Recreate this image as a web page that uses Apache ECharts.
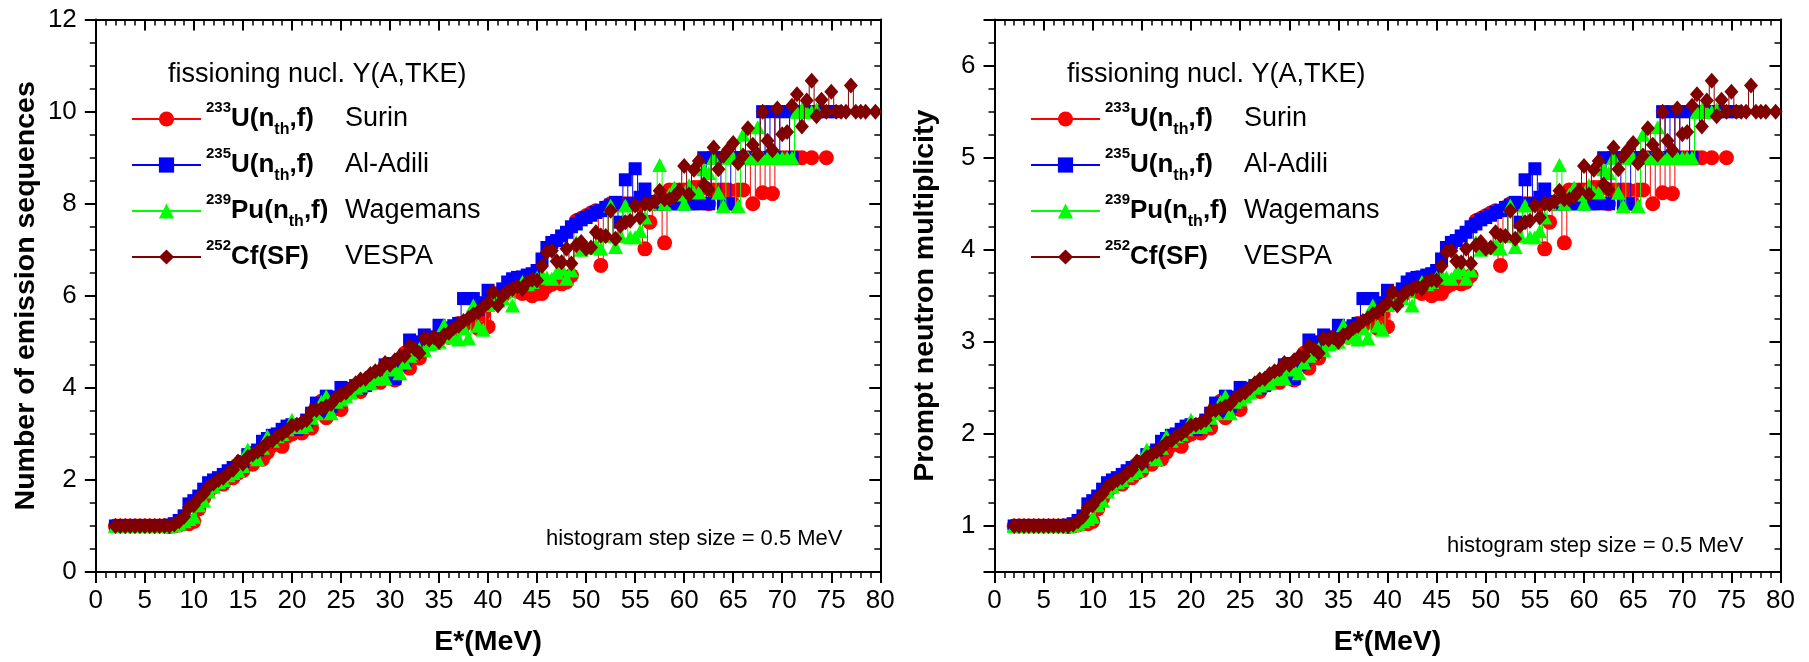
<!DOCTYPE html>
<html><head><meta charset="utf-8">
<script src="https://cdn.jsdelivr.net/npm/echarts@6/dist/echarts.min.js"></script>
<style>html,body{margin:0;padding:0;background:#fff}#c{width:1809px;height:662px}</style>
</head><body><div id="c"></div>
<script>
// ---------- DATA ----------
const energy = [2,2.5,3,3.5,4,4.5,5,5.5,6,6.5,
7,7.5,8,8.5,9,9.5,10,10.5,11,11.5,
12,12.5,13,13.5,14,14.5,15,15.5,16,16.5,
17,17.5,18,18.5,19,19.5,20,20.5,21,21.5,
22,22.5,23,23.5,24,24.5,25,25.5,26,26.5,
27,27.5,28,28.5,29,29.5,30,30.5,31,31.5,
32,32.5,33,33.5,34,34.5,35,35.5,36,36.5,
37,37.5,38,38.5,39,39.5,40,40.5,41,41.5,
42,42.5,43,43.5,44,44.5,45,45.5,46,46.5,
47,47.5,48,48.5,49,49.5,50,50.5,51,51.5,
52,52.5,53,53.5,54,54.5,55,55.5,56,56.5,
57,57.5,58,58.5,59,59.5,60,60.5,61,61.5,
62,62.5,63,63.5,64,64.5,65,65.5,66,66.5,
67,67.5,68,68.5,69,69.5,70,70.5,71,71.5,
72,72.5,73,73.5,74,74.5,75,75.5,76,76.5,
77,77.5,78,78.5,79,79.5,80];

// Left panel: number of emission sequences
const seqU233 = [1,1,1,1,1,1,1,1,1,1,
1,0.99,1.0,1.02,1.05,1.05,1.1,1.37,1.6,1.75,
1.85,1.95,1.91,2.05,2.05,2.15,2.2,2.35,2.34,2.5,
2.45,2.6,2.75,2.85,2.73,2.95,3.0,3.05,3.02,3.15,
3.13,3.6,3.71,3.35,3.5,3.55,3.53,3.85,3.95,4.0,
3.92,4.05,4.1,4.15,4.12,4.4,4.5,4.17,4.55,4.75,
4.43,4.8,4.65,5.0,5.0,5.1,5.05,5.15,5.1,5.25,
5.4,5.35,5.45,5.5,5.29,5.6,5.33,5.85,6.05,6.0,
6.1,6.15,6.1,6.05,6.1,6.0,6.05,6.05,6.2,6.25,
6.3,6.26,6.3,6.44,7.63,7.68,7.74,7.8,7.85,6.66,
7.92,8.0,8.0,8.0,8.0,8.0,8.0,8.0,7.02,7.6,
8.0,8.0,7.15,8.3,8.3,8.3,8.3,8.3,8.35,8.35,
8.35,8.0,8.3,8.3,8.3,8.3,8.0,8.3,8.3,9.0,
8.0,9.0,8.24,9.0,8.22,9.0,9.0,9.0,9.0,9.0,
9.0,null,9.0,null,null,9.0];
const seqU235 = [1,1,1,1,1,1,1,1,1,1,
1,1.02,1.05,1.12,1.22,1.48,1.55,1.65,1.8,1.94,
2.0,2.05,2.12,2.2,2.27,2.3,2.4,2.55,2.59,2.65,
2.84,2.9,2.97,3.0,3.1,3.17,3.2,3.1,3.2,3.3,
3.45,3.67,3.5,3.82,3.6,3.8,4.01,3.9,3.99,4.05,
4.0,4.05,4.17,4.2,4.25,4.5,4.53,4.2,4.5,4.57,
5.04,5.0,4.9,5.15,5.05,5.1,5.36,5.2,5.3,5.35,
5.4,5.94,5.94,5.94,5.7,5.85,6.12,6.0,6.0,6.15,
6.3,6.37,6.4,6.41,6.45,6.48,6.55,6.8,7.05,7.16,
7.2,7.3,7.38,7.5,7.56,7.65,7.7,7.75,7.81,7.85,
7.92,7.97,8.03,7.6,8.52,8.0,8.76,8.14,8.32,8.05,
8,8,8,8,8,8,8,8,8,8,
9,8,9,9,8,8,9,9,9,9,
9,9,10,9,10,9,10,10,9,10,
10,10,10,10,10,10,10,10];
const seqPu239 = [1,1,1,1,1,1,1,1,1,1,
1,1,1.02,1.05,1.1,1.15,1.2,1.45,1.55,1.75,
1.85,1.95,2.0,2.1,2.15,2.2,2.3,2.66,2.5,2.45,
2.7,2.95,2.85,2.95,3.0,3.1,3.31,3.15,3.15,3.2,
3.35,3.45,3.7,3.82,3.45,3.7,3.75,3.82,3.9,4.0,
4.05,4.1,4.1,4.2,4.2,4.21,4.45,4.4,4.32,4.55,
4.7,4.75,4.85,4.82,4.95,4.97,5.0,5.36,5.1,5.1,
5.05,5.3,5.08,5.79,5.35,5.26,5.8,5.9,5.9,5.95,
6.1,5.79,6.2,6.3,6.25,6.3,6.4,6.45,6.4,6.37,
6.5,6.6,6.37,6.55,7.17,7.0,7.05,7.05,7.1,7.02,
7.3,7.96,7.06,7.3,7.96,7.27,7.27,7.4,7.7,8.0,
8.1,8.84,8.0,8.2,8.35,8.2,8.0,8.4,8.25,8.25,
8.75,8.67,9.0,8.24,7.95,9.0,9.0,7.95,9.5,9.0,
9.0,9.66,9.0,9.0,9.0,9.0,9.0,9.0,9.0,10.0,
10.05,10.0,10.0,10.05];
const seqCf252 = [1,1,1,1,1,1,1,1,1,1,
1,1,1.03,1.1,1.2,1.4,1.45,1.6,1.7,1.85,
1.92,2.0,2.05,2.15,2.22,2.4,2.35,2.5,2.55,2.62,
2.7,2.8,2.85,2.95,3.0,3.08,3.18,3.2,3.25,3.3,
3.5,3.52,3.55,3.6,3.65,3.78,3.85,3.9,4.0,4.1,
4.18,4.2,4.3,4.36,4.4,4.54,4.5,4.6,4.68,4.7,
4.9,4.85,4.75,5.08,5.05,5.1,5.0,5.15,5.2,5.3,
5.35,5.45,5.51,5.6,5.65,5.75,5.85,6.08,5.79,6.0,
6.1,6.15,6.2,6.15,6.3,6.35,6.33,6.65,6.95,6.98,
6.75,6.73,7.02,6.7,7.1,7.17,7.02,7.05,7.38,7.31,
7.3,7.85,7.24,7.52,7.6,7.63,7.96,7.7,8.0,7.99,
8.05,8.28,8.1,8.1,8.15,8.28,8.82,8.2,8.74,8.93,
8.42,8.31,9.22,8.75,9.04,9.18,9.32,8.88,9.05,9.64,
9.28,9.07,10.0,9.37,9.16,10.07,9.51,9.56,10.13,10.38,
9.68,10.24,10.67,9.9,10.26,10.0,10.43,10.0,10.0,10.0,
10.57,10.0,10.0,10.0,null,10.0];

// Right panel: prompt neutron multiplicity
const nuU233 = [1,1,1,1,1,1,1,1,1,1,
1,0.995,1,1.01,1.025,1.025,1.05,1.185,1.3,1.375,
1.425,1.475,1.455,1.525,1.525,1.575,1.6,1.675,1.67,1.75,
1.725,1.8,1.875,1.925,1.865,1.975,2.0,2.025,2.01,2.075,
2.065,2.3,2.355,2.175,2.25,2.275,2.265,2.425,2.475,2.5,
2.46,2.525,2.55,2.575,2.56,2.7,2.75,2.585,2.775,2.875,
2.715,2.9,2.825,3.0,3.0,3.05,3.025,3.075,3.05,3.125,
3.2,3.175,3.225,3.25,3.145,3.3,3.165,3.425,3.525,3.5,
3.55,3.575,3.55,3.525,3.55,3.5,3.525,3.525,3.6,3.625,
3.65,3.63,3.65,3.72,4.315,4.34,4.37,4.4,4.425,3.83,
4.46,4.5,4.5,4.5,4.5,4.5,4.5,4.5,4.01,4.3,
4.5,4.5,4.075,4.65,4.65,4.65,4.65,4.65,4.675,4.675,
4.675,4.5,4.65,4.65,4.65,4.65,4.5,4.65,4.65,5.0,
4.5,5.0,4.62,5.0,4.61,5.0,5.0,5.0,5.0,5.0,
5.0,null,5.0,null,null,5.0];
const nuU235 = [1,1,1,1,1,1,1,1,1,1,
1,1.01,1.025,1.06,1.11,1.24,1.275,1.325,1.4,1.47,
1.5,1.525,1.56,1.6,1.635,1.65,1.7,1.775,1.795,1.825,
1.92,1.95,1.985,2.0,2.05,2.085,2.1,2.05,2.1,2.15,
2.225,2.335,2.25,2.41,2.3,2.4,2.505,2.45,2.495,2.525,
2.5,2.525,2.585,2.6,2.625,2.75,2.765,2.6,2.75,2.785,
3.02,3.0,2.95,3.075,3.025,3.05,3.18,3.1,3.15,3.175,
3.2,3.47,3.47,3.47,3.35,3.425,3.56,3.5,3.5,3.575,
3.65,3.685,3.7,3.705,3.725,3.74,3.775,3.9,4.025,4.08,
4.1,4.15,4.19,4.25,4.28,4.325,4.35,4.375,4.405,4.425,
4.46,4.485,4.515,4.3,4.76,4.5,4.88,4.57,4.66,4.525,
4.5,4.5,4.5,4.5,4.5,4.5,4.5,4.5,4.5,4.5,
5,4.5,5,5,4.5,4.5,5,5,5,5,
5,5,5.5,5,5.5,5,5.5,5.5,5,5.5,
5.5,5.5,5.5,5.5,5.5,5.5,5.5,5.5];
const nuPu239 = [1,1,1,1,1,1,1,1,1,1,
1,1,1.01,1.025,1.05,1.075,1.1,1.225,1.275,1.375,
1.425,1.475,1.5,1.55,1.575,1.6,1.65,1.83,1.75,1.725,
1.85,1.975,1.925,1.975,2.0,2.05,2.155,2.075,2.075,2.1,
2.175,2.225,2.35,2.41,2.225,2.35,2.375,2.41,2.45,2.5,
2.525,2.55,2.55,2.6,2.6,2.605,2.725,2.7,2.66,2.775,
2.85,2.875,2.925,2.91,2.975,2.985,3.0,3.18,3.05,3.05,
3.025,3.15,3.04,3.395,3.175,3.13,3.4,3.45,3.45,3.475,
3.55,3.395,3.6,3.65,3.625,3.65,3.7,3.725,3.7,3.685,
3.75,3.8,3.685,3.775,4.085,4.0,4.025,4.025,4.05,4.01,
4.15,4.48,4.03,4.15,4.48,4.135,4.135,4.2,4.35,4.5,
4.55,4.92,4.5,4.6,4.675,4.6,4.5,4.7,4.625,4.625,
4.875,4.835,5.0,4.62,4.475,5.0,5.0,4.475,5.25,5.0,
5.0,5.33,5.0,5.0,5.0,5.0,5.0,5.0,5.0,5.5,
5.525,5.5,5.5,5.525];
const nuCf252 = [1,1,1,1,1,1,1,1,1,1,
1,1,1.015,1.05,1.1,1.2,1.225,1.3,1.35,1.425,
1.46,1.5,1.525,1.575,1.61,1.7,1.675,1.75,1.775,1.81,
1.85,1.9,1.925,1.975,2.0,2.04,2.09,2.1,2.125,2.15,
2.25,2.26,2.275,2.3,2.325,2.39,2.425,2.45,2.5,2.55,
2.59,2.6,2.65,2.68,2.7,2.77,2.75,2.8,2.84,2.85,
2.95,2.925,2.875,3.04,3.025,3.05,3.0,3.075,3.1,3.15,
3.175,3.225,3.255,3.3,3.325,3.375,3.425,3.54,3.395,3.5,
3.55,3.575,3.6,3.575,3.65,3.675,3.665,3.825,3.975,3.99,
3.875,3.865,4.01,3.85,4.05,4.085,4.01,4.025,4.19,4.155,
4.15,4.425,4.12,4.26,4.3,4.315,4.48,4.35,4.5,4.495,
4.525,4.64,4.55,4.55,4.575,4.64,4.91,4.6,4.87,4.965,
4.71,4.655,5.11,4.875,5.02,5.09,5.16,4.94,5.025,5.32,
5.14,5.035,5.5,5.185,5.08,5.535,5.255,5.28,5.565,5.69,
5.34,5.62,5.835,5.45,5.63,5.5,5.715,5.5,5.5,5.5,
5.785,5.5,5.5,5.5,null,5.5];

const seriesNames = ['233U(nth,f) Surin', '235U(nth,f) Al-Adili', '239Pu(nth,f) Wagemans', '252Cf(SF) VESPA'];
const isotopeLabels = ['{sup|233}{b|U(n}{sub|th}{b|,f)}', '{sup|235}{b|U(n}{sub|th}{b|,f)}',
                       '{sup|239}{b|Pu(n}{sub|th}{b|,f)}', '{sup|252}{b|Cf(SF)}'];
const sourceLabels = ['Surin', 'Al-Adili', 'Wagemans', 'VESPA'];
const legendTitle = 'fissioning nucl. Y(A,TKE)';
const stepNote = 'histogram step size = 0.5 MeV';
const xTitle = 'E*(MeV)';
const yTitles = ['Number of emission sequences', 'Prompt neutron multiplicity'];
const xRange = [0, 80], xStep = 5;
const leftYRange = [0, 12], leftYStep = 2;
const rightYRange = [0.5, 6.5], rightYSplits = 6;

// ---------- STYLE ----------
const FONT = "'Liberation Sans', Arial, Helvetica, sans-serif";
const colors = ['#ff0000', '#0000ff', '#00ff00', '#800000'];
const symbols = ['circle', 'rect', 'triangle', 'diamond'];
const symbolSizes = [15, 13, [15, 14], [14, 16]];

function makeSeries(valueSets, xi, yi) {
  return valueSets.map((vals, k) => ({
    name: seriesNames[k], type: 'line', step: 'middle',
    xAxisIndex: xi, yAxisIndex: yi,
    data: vals.map((v, i) => [energy[i], v]).filter(p => p[1] !== null),
    symbol: symbols[k], symbolSize: symbolSizes[k], showSymbol: true, showAllSymbol: true,
    itemStyle: { color: colors[k], opacity: 1 },
    lineStyle: { color: colors[k], width: 1 },
    emphasis: { disabled: true }, silent: true, z: 2 + k, animation: false
  }));
}

const tickCommon = (inside) => ({
  axisLine: { show: true, onZero: false, lineStyle: { color: '#000', width: 2 } },
  axisTick: { show: true, inside: inside, length: 11, lineStyle: { color: '#000', width: 2 } },
  splitLine: { show: false }, minorSplitLine: { show: false }
});
const minor = (n) => ({ minorTick: { show: true, splitNumber: n, length: 6, lineStyle: { color: '#000', width: 1.5 } } });
const labelStyle = { color: '#000', fontSize: 26, fontFamily: FONT };
const nameStyle = { color: '#000', fontSize: 28.5, fontWeight: 'bold', fontFamily: FONT };

function xAxes(gi) {
  return [
    Object.assign({ type: 'value', gridIndex: gi, position: 'bottom', min: xRange[0], max: xRange[1], interval: xStep,
      name: xTitle, nameLocation: 'middle', nameGap: 56, nameTextStyle: nameStyle,
      axisLabel: Object.assign({ margin: 16 }, labelStyle) }, tickCommon(false), minor(5)),
    Object.assign({ type: 'value', gridIndex: gi, position: 'top', min: xRange[0], max: xRange[1], interval: xStep,
      axisLabel: { show: false } }, tickCommon(true), minor(5))
  ];
}
function yAxesLeftPanel() {
  const base = { type: 'value', gridIndex: 0, min: leftYRange[0], max: leftYRange[1], interval: leftYStep };
  return [
    Object.assign({}, base, { position: 'left', name: yTitles[0], nameLocation: 'middle', nameGap: 55,
      nameTextStyle: nameStyle, axisLabel: Object.assign({ margin: 19 }, labelStyle) }, tickCommon(false), minor(4)),
    Object.assign({}, base, { position: 'right', axisLabel: { show: false } }, tickCommon(true), minor(4))
  ];
}
function yAxesRightPanel() {
  const base = { type: 'value', gridIndex: 1, min: rightYRange[0], max: rightYRange[1], splitNumber: rightYSplits };
  return [
    Object.assign({}, base, { position: 'left', name: yTitles[1], nameLocation: 'middle', nameGap: 55,
      nameTextStyle: nameStyle,
      axisLabel: Object.assign({ margin: 19, showMinLabel: false, showMaxLabel: false }, labelStyle) }, tickCommon(false), minor(4)),
    Object.assign({}, base, { position: 'right', axisLabel: { show: false } }, tickCommon(true), minor(4))
  ];
}

const richName = {
  sup: { fontSize: 15, fontWeight: 'bold', color: '#000', fontFamily: FONT, verticalAlign: 'top', lineHeight: 18 },
  b:   { fontSize: 26, fontWeight: 'bold', color: '#000', fontFamily: FONT, lineHeight: 38 },
  sub: { fontSize: 16, fontWeight: 'bold', color: '#000', fontFamily: FONT, verticalAlign: 'bottom', lineHeight: 18 }
};
function legends(dx) {
  return [
    { data: seriesNames, orient: 'vertical', left: 131 + dx, top: 100, padding: 0,
      itemWidth: 69, itemHeight: 19, itemGap: 8, selectedMode: false,
      formatter: n => isotopeLabels[seriesNames.indexOf(n)],
      textStyle: { color: '#000', fontFamily: FONT, rich: richName } },
    { data: seriesNames, orient: 'vertical', left: 339 + dx, top: 100, padding: 0,
      icon: 'rect', itemWidth: 1, itemHeight: 19, itemGap: 8, selectedMode: false,
      itemStyle: { opacity: 0 },
      formatter: n => sourceLabels[seriesNames.indexOf(n)],
      textStyle: { color: '#000', fontFamily: FONT, fontSize: 27, lineHeight: 38 } }
  ];
}
function textEl(str, x, y, size) {
  return { type: 'text', x: x, y: y, silent: true,
    style: { text: str, fill: '#000', fontSize: size, fontFamily: FONT, align: 'left', verticalAlign: 'middle' } };
}

const option = {
  animation: false,
  backgroundColor: '#fff',
  textStyle: { fontFamily: FONT },
  grid: [
    { left: 95.8, top: 19.6, width: 784.5, height: 555, containLabel: false },
    { left: 994.5, top: 19.6, width: 786, height: 555, containLabel: false }
  ],
  xAxis: xAxes(0).concat(xAxes(1)),
  yAxis: yAxesLeftPanel().concat(yAxesRightPanel()),
  legend: legends(0).concat(legends(899)),
  graphic: [
    textEl(legendTitle, 168, 75, 27),
    textEl(legendTitle, 1067, 75, 27),
    textEl(stepNote, 546, 539, 22),
    textEl(stepNote, 1447, 546, 22)
  ],
  series: makeSeries([seqU233, seqU235, seqPu239, seqCf252], 0, 0)
    .concat(makeSeries([nuU233, nuU235, nuPu239, nuCf252], 2, 2))
};

const chart = echarts.init(document.getElementById('c'), null, { renderer: 'canvas', width: 1809, height: 662 });
chart.setOption(option);
</script>
</body></html>
